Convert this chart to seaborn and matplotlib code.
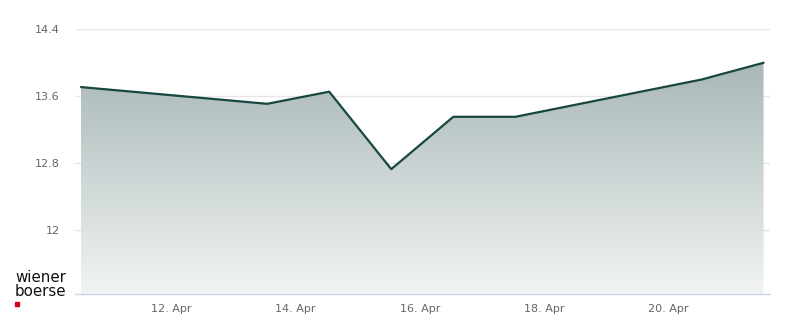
import numpy as np
import pandas as pd
import matplotlib
matplotlib.use("Agg")
import matplotlib.pyplot as plt
import matplotlib.dates as mdates
from matplotlib.colors import LinearSegmentedColormap
import seaborn as sns

# ---- data ----
dates = ["2026-04-10 13:00", "2026-04-13 13:00", "2026-04-14 13:00", "2026-04-15 13:00",
         "2026-04-16 13:00", "2026-04-17 13:00", "2026-04-20 13:00", "2026-04-21 13:00"]
prices = [13.71, 13.51, 13.655, 12.73, 13.355, 13.355, 13.80, 14.00]
y_ticks = [12, 12.8, 13.6, 14.4]
y_tick_labels = ["12", "12.8", "13.6", "14.4"]
x_tick_days = ["2026-04-12", "2026-04-14", "2026-04-16", "2026-04-18", "2026-04-20"]

df = pd.DataFrame({"date": pd.to_datetime(dates), "price": prices})

sns.set_style("white")
plt.rcParams["font.family"] = ["DejaVu Sans"]

fig = plt.figure(figsize=(8, 3.24), dpi=100)
ax = fig.add_axes([75 / 800, 30 / 324, 695 / 800, (294 - 29.3) / 324])

line_color = "#17473f"
sns.lineplot(data=df, x="date", y="price", ax=ax, color=line_color, linewidth=1.6, zorder=4)

xnum = mdates.date2num(df["date"])
ymin, ymax = 11.239, 14.4
ax.set_ylim(ymin, ymax)
x0 = mdates.date2num(pd.Timestamp("2026-04-10 10:40"))
x1 = mdates.date2num(pd.Timestamp("2026-04-21 15:30"))
ax.set_xlim(x0, x1)

# gradient fill under line
poly = ax.fill_between(xnum, df["price"], ymin, color="none", lw=0)
cmap = LinearSegmentedColormap.from_list("g", ["#f2f4f4", "#a8b8b7"])
grad = np.linspace(0, 1, 256).reshape(-1, 1)
top = max(prices)
im = ax.imshow(grad, cmap=cmap, aspect="auto", origin="lower",
               extent=[xnum.min(), xnum.max(), ymin, top], zorder=2)
path = poly.get_paths()[0]
im.set_clip_path(path, transform=ax.transData)

# grid
ax.set_yticks(y_ticks)
ax.set_yticklabels(y_tick_labels)
for yt in y_ticks:
    ax.axhline(yt, color="#e6e6e6", lw=1, zorder=1)

ax.set_xticks(mdates.date2num(pd.to_datetime(x_tick_days)))
ax.xaxis.set_major_formatter(mdates.DateFormatter("%d. %b"))

for s in ["top", "right", "left"]:
    ax.spines[s].set_visible(False)
ax.spines["bottom"].set_color("#ccd6eb")
ax.spines["bottom"].set_linewidth(1)
ax.tick_params(axis="x", colors="#ccd6eb", length=4.5, width=1, direction="out",
               labelcolor="#666666", labelsize=8, pad=2.5)
ax.tick_params(axis="y", length=0, labelcolor="#666666", labelsize=8, pad=11)
ax.set_xlabel("")
ax.set_ylabel("")

# logo
fig.text(15 / 800, 1 - 277.5 / 324, "wiener", fontsize=10.8, color="#111111", va="center", ha="left")
fig.text(15 / 800, 1 - 291.5 / 324, "boerse", fontsize=10.8, color="#111111", va="center", ha="left")
fig.patches.append(plt.Rectangle((15 / 800, 1 - 306 / 324), 4 / 800, 4 / 324,
                                 transform=fig.transFigure, color="#d0021b", figure=fig))

fig.savefig("out.png", dpi=100)
